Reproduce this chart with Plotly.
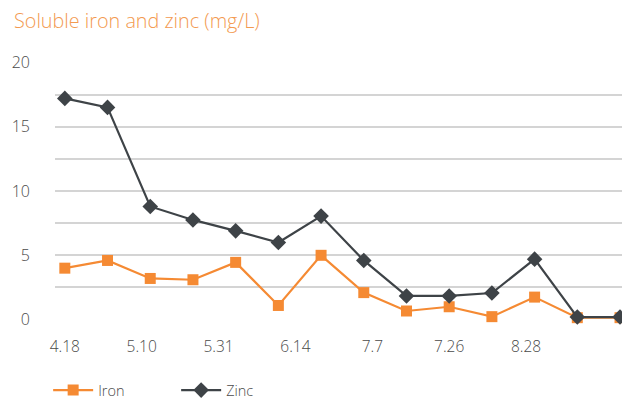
import plotly.graph_objects as go

point_index = list(range(14))
iron = [4.0, 4.6, 3.2, 3.1, 4.45, 1.1, 5.0, 2.1, 0.67, 1.0, 0.23, 1.75, 0.15, 0.15]
zinc = [17.2, 16.5, 8.8, 7.75, 6.9, 6.0, 8.05, 4.6, 1.84, 1.84, 2.07, 4.7, 0.2, 0.2]
tick_labels = ["4.18", "5.10", "5.31", "6.14", "7.7", "7.26", "8.28"]
tick_positions = [0, 1.8, 3.6, 5.4, 7.2, 9.0, 10.8]

IRON_C = "#F58A33"
ZINC_C = "#3E4347"
TXT = "#4A4A4A"
GRID = "#D4D4D4"
FONT = "'Open Sans', Lato, sans-serif"

# the page body adds an 8px offset, so the figure is 8px smaller than the window
W, H = 622, 393

fig = go.Figure()
fig.add_trace(go.Scatter(
    x=point_index, y=iron, name="Iron", mode="lines+markers",
    line=dict(color=IRON_C, width=2.2),
    marker=dict(symbol="square", size=11, color=IRON_C),
    cliponaxis=False))
fig.add_trace(go.Scatter(
    x=point_index, y=zinc, name="Zinc", mode="lines+markers",
    line=dict(color=ZINC_C, width=2.2),
    marker=dict(symbol="diamond", size=12, color=ZINC_C),
    cliponaxis=False))

fig.update_layout(
    width=W, height=H,
    margin=dict(l=47, r=4, t=54, b=81, autoexpand=False),
    paper_bgcolor="white", plot_bgcolor="white",
    font=dict(family=FONT, color=TXT, size=15, weight=300),
    title=dict(text="Soluble iron and zinc (mg/L)", xref="container", yref="container",
               x=6/W, xanchor="left", y=1-13/H, yanchor="middle",
               pad=dict(l=0, r=0, t=0, b=0), automargin=False,
               font=dict(family=FONT, size=19.8, color="#F39A50", weight=300)),
    showlegend=True,
    legend=dict(orientation="h", x=-0.012, xanchor="left", y=-0.272, yanchor="middle",
                font=dict(family=FONT, size=14.5, color=TXT, weight=300),
                itemwidth=40, entrywidth=73, traceorder="normal"),
    xaxis=dict(range=[-0.23, 13.14], tickmode="array", tickvals=tick_positions,
               ticktext=tick_labels, showgrid=False, zeroline=False, showline=False,
               ticks="", ticklabelstandoff=15, automargin=False,
               tickfont=dict(family=FONT, size=15.5, color=TXT, weight=300)),
    yaxis=dict(range=[-0.03, 20.03], tickmode="linear", tick0=0, dtick=5,
               showgrid=True, gridcolor=GRID, gridwidth=1.5, zeroline=False,
               showline=False, ticks="", ticklabelstandoff=24, automargin=False,
               tickfont=dict(family=FONT, size=16, color=TXT, weight=300),
               minor=dict(dtick=2.5, tick0=0, showgrid=True, gridcolor=GRID, gridwidth=1.5)),
)

fig.write_html("out.html")
